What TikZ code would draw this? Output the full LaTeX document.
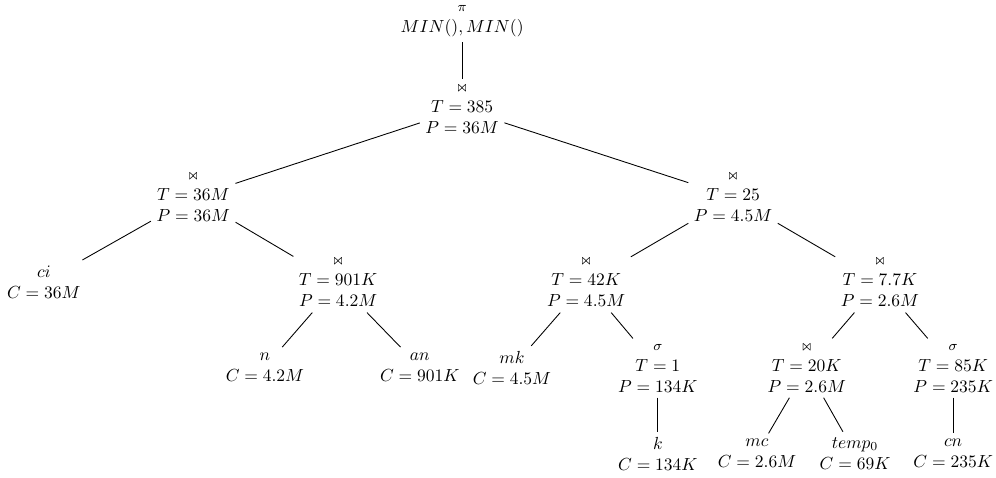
\documentclass[tikz,border=0pt]{standalone}
\usepackage{amsmath}
\usepackage{amssymb}
\usepackage{graphicx}
\usetikzlibrary{positioning}
\tikzset{
  plan/.style={align=center, inner sep=3pt, text=black},
  edge/.style={draw=black, line width=0.5pt},
}
\newcommand{\jn}{\scalebox{0.5}[0.75]{\boldmath$\bowtie$}}
\newcommand{\sel}{{\footnotesize$\sigma$}}
\newcommand{\prj}{{\footnotesize$\pi$}}

\begin{document}
\begin{tikzpicture}[x=1cm, y=1cm]
\useasboundingbox (0,0) rectangle (20.0,-9.58);

% ------------------------------------------------------------------- top
\node[plan] (pi) at (9.28,-0.42) {\prj\\$MIN(), MIN()$};
\node[plan] (j1) at (9.28,-2.19) {\jn\\$T = 385$\\$P = 36M$};

% ------------------------------------------------------------- left side
\node[plan] (jl) at (3.88,-3.96) {\jn\\$T = 36M$\\$P = 36M$};
\node[plan] (ci) at (0.88,-5.66) {$ci$\\$C = 36M$};
\node[plan] (j2) at (6.79,-5.68) {\jn\\$T = 901K$\\$P = 4.2M$};
\node[plan] (n) at (5.32,-7.37) {$n$\\$C = 4.2M$};
\node[plan] (an) at (8.43,-7.37) {$an$\\$C = 901K$};

% ------------------------------------------------------------ right side
\node[plan] (jr) at (14.72,-3.96) {\jn\\$T = 25$\\$P = 4.5M$};
\node[plan] (j3) at (11.77,-5.68) {\jn\\$T = 42K$\\$P = 4.5M$};
\node[plan] (j4) at (17.67,-5.68) {\jn\\$T = 7.7K$\\$P = 2.6M$};
\node[plan] (mk) at (10.28,-7.39) {$mk$\\$C = 4.5M$};
\node[plan] (s1) at (13.21,-7.39) {\sel\\$T = 1$\\$P = 134K$};
\node[plan] (j5) at (16.20,-7.39) {\jn\\$T = 20K$\\$P = 2.6M$};
\node[plan] (s2) at (19.14,-7.39) {\sel\\$T = 85K$\\$P = 235K$};
\node[plan] (k) at (13.21,-9.12) {$k$\\$C = 134K$};
\node[plan] (mc) at (15.20,-9.10) {$mc$\\$C = 2.6M$};
\node[plan] (tmp) at (17.17,-9.10) {$temp_0$\\$C = 69K$};
\node[plan] (cn) at (19.14,-9.10) {$cn$\\$C = 235K$};

% ----------------------------------------------------------------- edges
\draw[edge] (pi) -- (j1);
\foreach \c in {jl,jr} { \draw[edge] (j1) -- (\c); }
\draw[edge] (jl) -- (ci); \draw[edge] (jl) -- (j2);
\draw[edge] (j2) -- (n); \draw[edge] (j2) -- (an);
\draw[edge] (jr) -- (j3); \draw[edge] (jr) -- (j4);
\draw[edge] (j3) -- (mk); \draw[edge] (j3) -- (s1);
\draw[edge] (s1) -- (k);
\draw[edge] (j4) -- (j5); \draw[edge] (j4) -- (s2);
\draw[edge] (j5) -- (mc); \draw[edge] (j5) -- (tmp);
\draw[edge] (s2) -- (cn);

\end{tikzpicture}
\end{document}
